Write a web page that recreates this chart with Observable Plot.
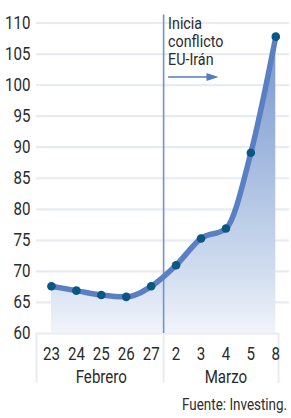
<!DOCTYPE html>
<html><head><meta charset="utf-8">
<script src="https://cdn.jsdelivr.net/npm/d3@7"></script>
<script src="https://cdn.jsdelivr.net/npm/@observablehq/plot@0.6"></script>
<style>
html,body{margin:0;padding:0;background:#fff;}
body{width:291px;height:418px;position:relative;overflow:hidden;font-family:"Liberation Sans Narrow","Roboto","DejaVu Sans Condensed",sans-serif;}
#caption{position:absolute;right:4px;top:395px;font-size:16px;line-height:20px;color:#2e2e2e;transform:scaleX(0.84);transform-origin:100% 50%;white-space:nowrap;}
</style></head><body><div id="chart"></div><div id="caption">Fuente: Investing.</div>
<script>
const days = ["23","24","25","26","27","2","3","4","5","8"];
const values = [67.6,66.9,66.2,65.9,67.6,71.0,75.3,76.9,89.1,107.8];
const months = ["Febrero","Marzo"];
const monthCenters = [2, 7];
const yTicks = [60,65,70,75,80,85,90,95,100,105,110];
const groupEdges = [-0.6, 4.5, 9.11];
const eventIndex = 4.5;
const annotation = ["Inicia","conflicto","EU-Irán"];

const data = days.map((d,i)=>({i, day:d, v:values[i]}));
const textColor = "#2b2b2b";
const gridColor = "#e8ecf2";

const plot = Plot.plot({
  width: 291,
  height: 390,
  marginLeft: 36,
  marginRight: 2,
  marginTop: 22.5,
  marginBottom: 57,
  style: {fontFamily: '"Liberation Sans Narrow","Roboto",sans-serif', background: "#fff"},
  x: {type: "linear", domain: [-0.6, 9.55], axis: null},
  y: {domain: [60,110], axis: null},
  marks: [
    Plot.ruleY(yTicks.filter(t=>t>60), {stroke: gridColor, strokeWidth: 2.2}),
    Plot.ruleY([60], {x1: groupEdges[0], x2: groupEdges[2], stroke: gridColor, strokeWidth: 2}),
    Plot.ruleX(groupEdges, {y1: 60, y2: 52, stroke: gridColor, strokeWidth: 2}),
    Plot.areaY(data, {x: "i", y1: 60, y2: "v", curve: "monotone-x", fill: "url(#areaGrad)"}),
    Plot.ruleX([eventIndex], {y1: 60, y2: 111.3, stroke: "#7194ce", strokeWidth: 1.6}),
    Plot.lineY(data, {x: "i", y: "v", curve: "monotone-x", stroke: "#5a7fc2", strokeWidth: 5.5, strokeLinecap: "round"}),
    Plot.dot(data, {x: "i", y: "v", r: 4.3, fill: "#0a5783", stroke: "none"}),
    Plot.axisY(yTicks, {tickSize: 0, tickPadding: 6, fontSize: 18, fill: textColor, label: null}),
    Plot.text(data, {x: "i", y: 60, text: "day", lineAnchor: "top", dy: 14, fontSize: 18, fill: textColor}),
    Plot.text(months, {x: (d,i)=>monthCenters[i], y: 60, text: d=>d, lineAnchor: "top", dy: 37, fontSize: 18, fill: textColor}),
    Plot.text([annotation.join("\n")], {x: eventIndex, y: 111.1, text: d=>d, lineAnchor: "top", textAnchor: "start", dx: 4.5, fontSize: 17, lineHeight: 1.05, fill: textColor}),
    Plot.ruleY([101.3], {x1: 4.7, x2: 6.3, stroke: "#4f7cc3", strokeWidth: 1.6}),
    Plot.vector([0], {x: 6.22, y: 101.3, length: 12, r: 4, rotate: 90, shape: "spike", anchor: "start", fill: "#4f7cc3", stroke: "none"})
  ]
});

const defs = document.createElementNS("http://www.w3.org/2000/svg","defs");
defs.innerHTML = `<linearGradient id="areaGrad" x1="0" y1="0" x2="0" y2="1">
  <stop offset="0" stop-color="#7896cd"/>
  <stop offset="0.45" stop-color="#a7bde0"/>
  <stop offset="0.8" stop-color="#d2def0"/>
  <stop offset="1" stop-color="#f1f4fa"/>
</linearGradient>`;
plot.insertBefore(defs, plot.firstChild);
document.getElementById("chart").appendChild(plot);

// condense glyphs horizontally around each text's anchor point
plot.querySelectorAll("text").forEach(t=>{
  const tr = t.getAttribute("transform");
  if (tr) {
    t.setAttribute("transform", tr + " scale(0.84,1)");
  } else {
    const x = +(t.getAttribute("x") || 0), y = +(t.getAttribute("y") || 0);
    t.setAttribute("transform", `translate(${x},${y}) scale(0.84,1) translate(${-x},${-y})`);
  }
});
</script></body></html>
